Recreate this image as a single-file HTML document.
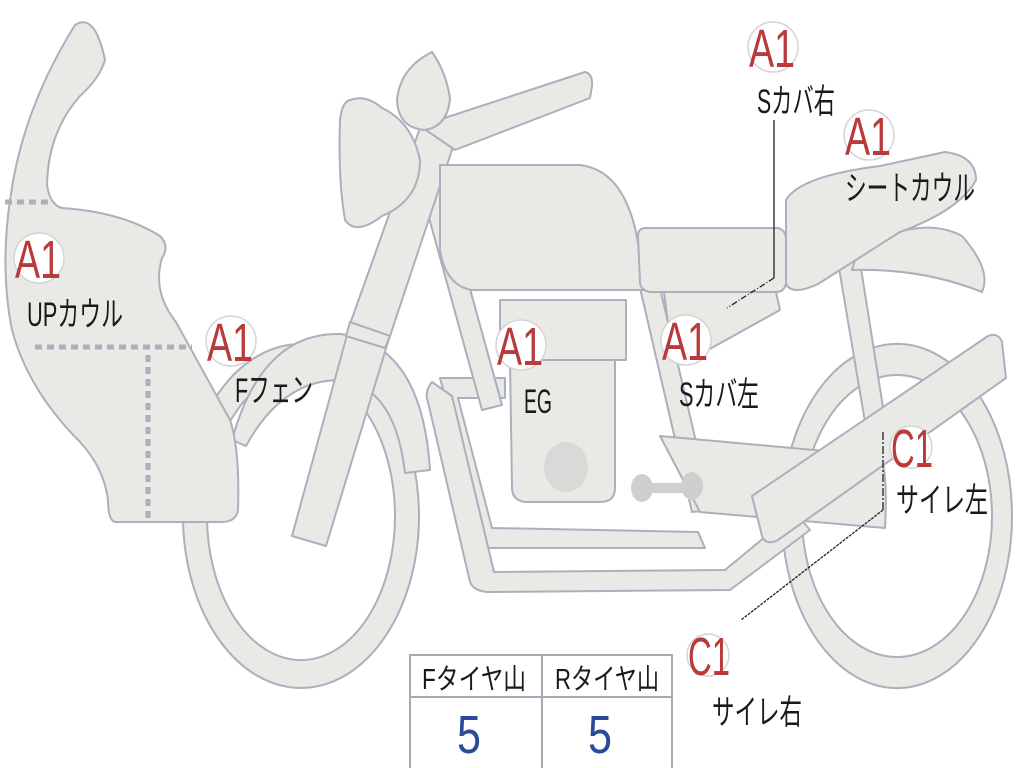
<!DOCTYPE html>
<html><head><meta charset="utf-8"><style>
html,body{margin:0;padding:0;background:#fff;width:1024px;height:768px;overflow:hidden}
svg{display:block}
text{font-family:"Liberation Sans Narrow","Liberation Sans","Noto Sans CJK JP",sans-serif}
</style></head><body>
<svg width="1024" height="768" viewBox="0 0 1024 768" xmlns="http://www.w3.org/2000/svg">
<g fill="#e9e9e6" stroke="#aab0bc" stroke-width="2" stroke-linejoin="round">
<path fill-rule="evenodd" d="M183 516 a118 172 0 1 0 236 0 a118 172 0 1 0 -236 0 Z M207 516 a94 144 0 1 0 188 0 a94 144 0 1 0 -188 0 Z"/>
<path fill-rule="evenodd" d="M782 516 a115 172 0 1 0 230 0 a115 172 0 1 0 -230 0 Z M802 516 a95 141 0 1 0 190 0 a95 141 0 1 0 -190 0 Z"/>
<path d="M232 440 Q262 332 340 334 Q422 344 430 470 L405 473 Q395 386 340 380 Q282 380 246 446 Z"/>
<path d="M10 200 Q22 110 75 25 Q95 12 105 60 Q100 78 80 96 Q48 132 47 185 Q50 205 62 208 Q122 212 160 236 Q170 246 162 258 Q152 292 176 322 L230 420 Q240 450 238 510 Q236 522 222 522 L115 522 Q108 520 108 500 Q104 468 80 442 Q28 390 12 330 Q0 270 10 200 Z"/>
<path d="M440 378 L505 378 L505 398 L458 398 L492 528 L698 532 L705 548 L486 548 Z"/>
<path d="M432 382 Q424 392 428 402 L470 582 Q474 592 490 592 L730 590 L810 530 L795 512 L725 570 L494 572 L452 396 Z"/>
<path d="M640 288 L660 288 L712 510 L692 512 Z"/>
<path d="M838 262 L860 262 L885 420 L865 422 Z"/>
<path d="M660 436 L880 456 Q888 470 885 528 L700 512 Z"/>
<path d="M500 300 L626 300 L626 360 L500 360 Z"/>
<path d="M510 360 L615 360 L615 488 Q615 502 600 502 L525 502 Q512 500 512 488 Z"/>
<path d="M420 185 L440 180 L502 405 L482 410 Z"/>
<path d="M420 128 L456 138 L388 342 L326 546 L292 536 L350 324 Z"/>
<path d="M350 322 L390 336 L385 348 L346 336 Z"/>
<path d="M420 126 L585 72 Q593 74 592 86 L590 98 L455 150 Z"/>
<path d="M350 100 Q366 94 382 108 Q412 122 420 160 Q420 200 382 216 Q356 236 345 220 Q338 180 340 120 Q342 102 350 100 Z"/>
<path d="M432 52 Q446 72 450 98 Q448 126 425 130 Q398 128 397 100 Q400 68 432 52 Z"/>
<path d="M440 165 L580 165 Q622 170 636 232 L646 290 L472 290 Q446 286 440 250 Z"/>
<path d="M664 292 L776 292 L780 310 L690 360 L672 356 Z"/>
<path d="M638 236 Q638 228 646 228 L778 228 Q786 230 786 240 L786 284 Q784 292 776 292 L650 292 Q640 290 640 282 Z"/>
<path d="M858 250 Q920 214 962 236 Q992 270 982 292 Q922 268 852 270 Z"/>
<path d="M786 200 Q800 176 880 166 L945 152 Q976 156 976 180 Q960 210 900 232 L818 284 Q792 296 786 284 Z"/>
<path d="M752 496 L988 336 Q998 332 1002 342 L1006 378 L778 540 Q766 546 762 536 Z"/>
</g>
<ellipse cx="566" cy="467" rx="22" ry="25" fill="#d9d9d8"/>
<g fill="#cfcfcf"><rect x="640" y="483" width="52" height="10"/><ellipse cx="642" cy="488" rx="11" ry="14"/><ellipse cx="692" cy="486" rx="11" ry="14"/></g>
<g stroke="#aab0bc" stroke-width="5" stroke-dasharray="7 5" fill="none">
<line x1="5" y1="202" x2="50" y2="202"/>
<line x1="35" y1="347" x2="192" y2="347"/>
<line x1="148" y1="355" x2="148" y2="518"/>
</g>
<g stroke="#222" fill="none" stroke-width="1.3">
<polyline points="774,120 774,278"/>
<line x1="774" y1="278" x2="727" y2="308" stroke-dasharray="6 2 1 2"/>
<line x1="883" y1="432" x2="883" y2="510" stroke-dasharray="8 2 2 2"/>
<line x1="883" y1="510" x2="741" y2="620" stroke-dasharray="3 1"/>
</g>
<g fill="#fff" stroke="#d4d4d4" stroke-width="1.5">
<circle cx="39" cy="258" r="25"/><circle cx="231" cy="341" r="25"/><circle cx="521" cy="345" r="25"/><circle cx="686" cy="340" r="25"/>
<circle cx="773" cy="47" r="25"/><circle cx="869" cy="135" r="25"/><circle cx="911" cy="447" r="21"/><circle cx="708" cy="655" r="21"/>
</g>
<g fill="#b83a3a" font-size="54">
<text x="15" y="278" textLength="46" lengthAdjust="spacingAndGlyphs">A1</text>
<text x="207" y="361" textLength="46" lengthAdjust="spacingAndGlyphs">A1</text>
<text x="497" y="365" textLength="46" lengthAdjust="spacingAndGlyphs">A1</text>
<text x="662" y="360" textLength="46" lengthAdjust="spacingAndGlyphs">A1</text>
<text x="749" y="67" textLength="46" lengthAdjust="spacingAndGlyphs">A1</text>
<text x="845" y="155" textLength="46" lengthAdjust="spacingAndGlyphs">A1</text>
<text x="891" y="467" textLength="42" lengthAdjust="spacingAndGlyphs">C1</text>
<text x="688" y="675" textLength="42" lengthAdjust="spacingAndGlyphs">C1</text>
</g>
<g fill="#1a1a1a" font-size="34">
<text x="27" y="326" textLength="96" lengthAdjust="spacingAndGlyphs">UPカウル</text>
<text x="235" y="402" textLength="78" lengthAdjust="spacingAndGlyphs">Fフェン</text>
<text x="524" y="413" textLength="28" lengthAdjust="spacingAndGlyphs">EG</text>
<text x="679" y="406" textLength="80" lengthAdjust="spacingAndGlyphs">Sカバ左</text>
<text x="757" y="113" textLength="78" lengthAdjust="spacingAndGlyphs">Sカバ右</text>
<text x="845" y="200" textLength="130" lengthAdjust="spacingAndGlyphs">シートカウル</text>
<text x="896" y="512" textLength="92" lengthAdjust="spacingAndGlyphs">サイレ左</text>
<text x="712" y="724" textLength="90" lengthAdjust="spacingAndGlyphs">サイレ右</text>
</g>
<g fill="#fff" stroke="#a4a9b4" stroke-width="2">
<rect x="410" y="655" width="262" height="116"/>
<line x1="410" y1="697" x2="672" y2="697"/>
<line x1="542" y1="655" x2="542" y2="770"/>
</g>
<g fill="#1a1a1a" font-size="29">
<text x="422" y="689" textLength="104" lengthAdjust="spacingAndGlyphs">Fタイヤ山</text>
<text x="555" y="689" textLength="104" lengthAdjust="spacingAndGlyphs">Rタイヤ山</text>
</g>
<g fill="#2a4a9a" font-size="54">
<text x="457" y="753" textLength="24" lengthAdjust="spacingAndGlyphs">5</text>
<text x="588" y="753" textLength="24" lengthAdjust="spacingAndGlyphs">5</text>
</g>
</svg>
</body></html>
